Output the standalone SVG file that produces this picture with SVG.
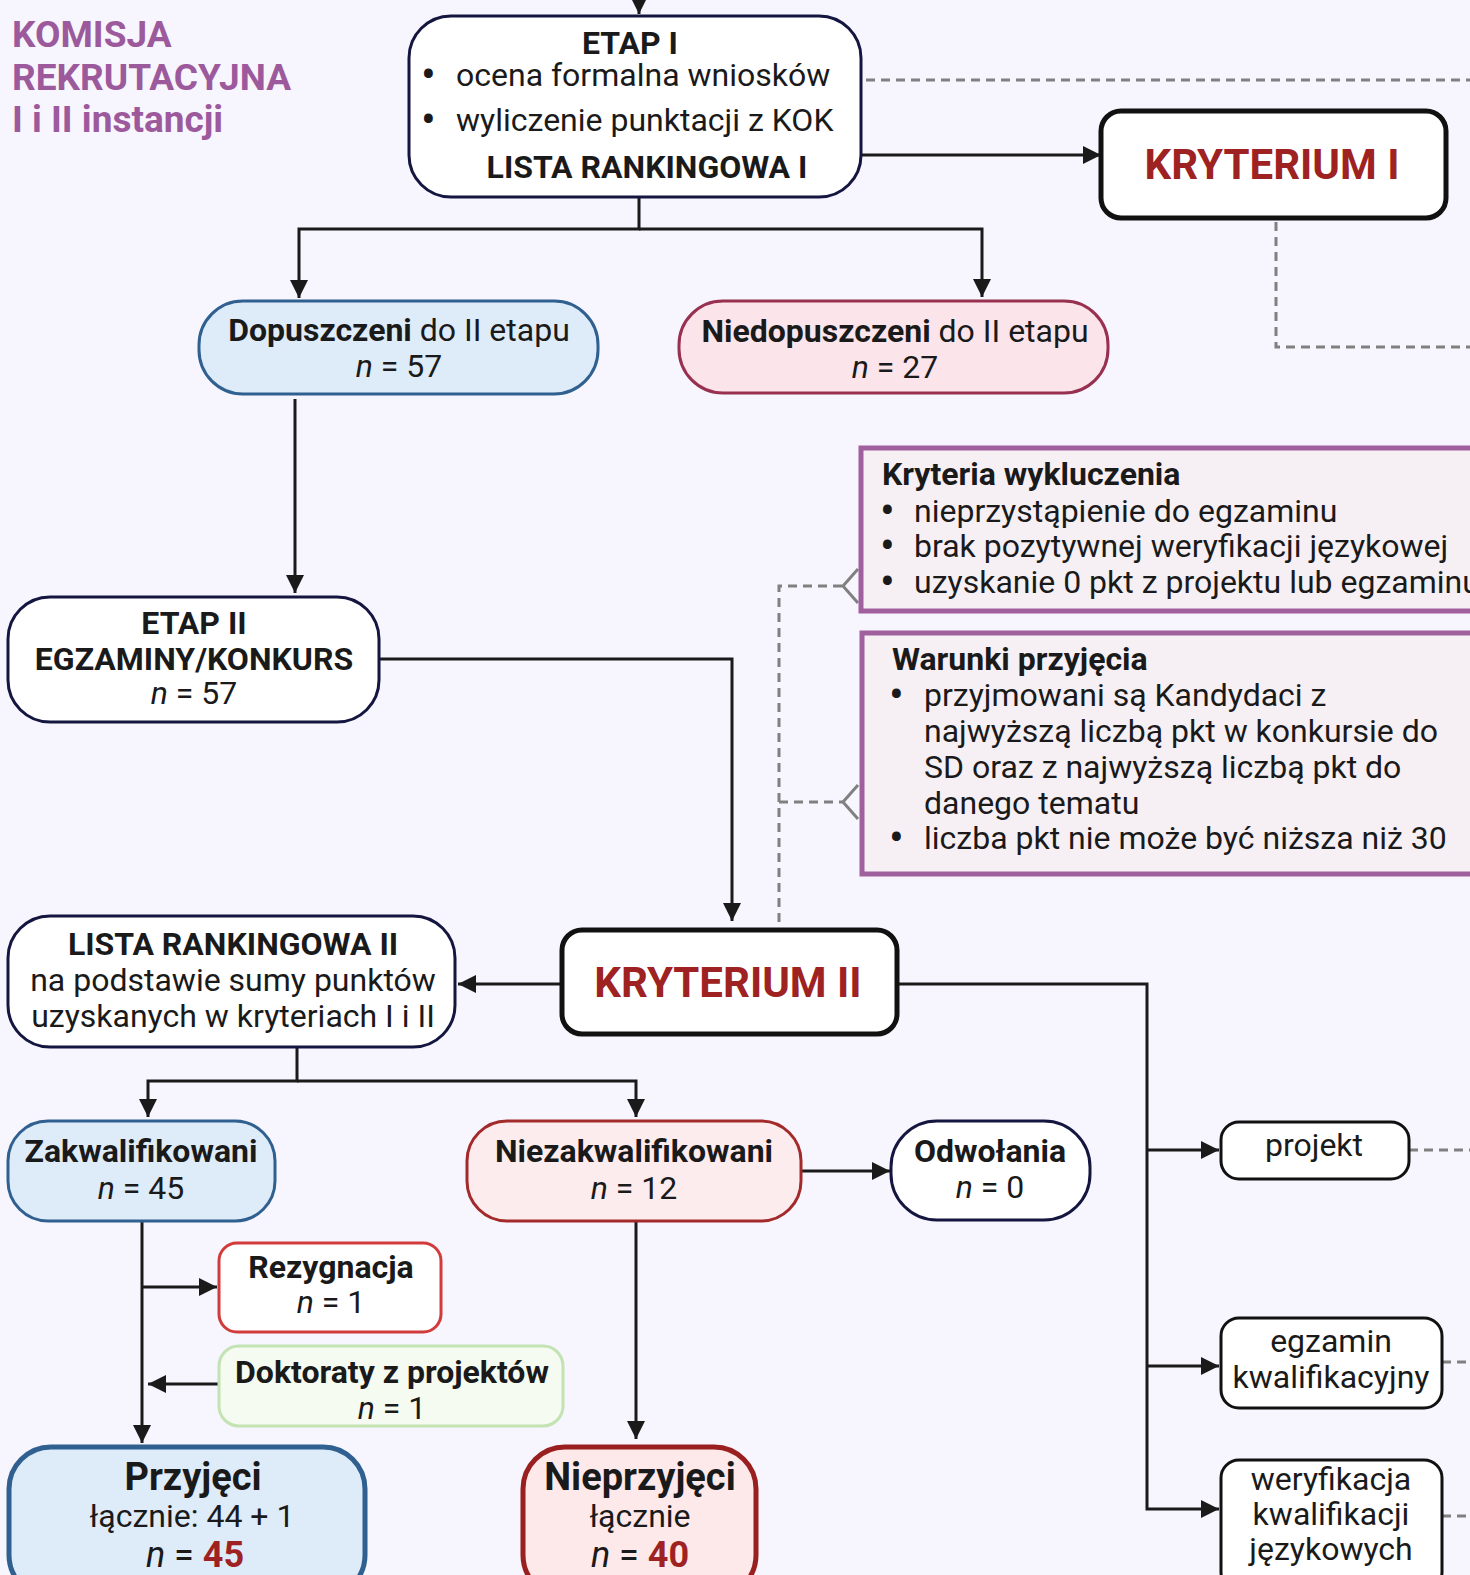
<svg xmlns="http://www.w3.org/2000/svg" width="1470" height="1575" viewBox="0 0 1470 1575">
<defs>
<style>
text{font-family:Roboto,"Noto Sans","Liberation Sans",sans-serif;font-size:32px;fill:#1a1a1a}
.b{font-weight:bold}
.i{font-style:italic}
.c{text-anchor:middle}
.bul{font-size:44px}
.title{font-size:37px;font-weight:bold;fill:#9c5a9c}
.kr{font-size:42px;font-weight:bold;fill:#9e2222}
.red{fill:#9e2222;font-weight:bold}
.navy{fill:#ffffff;stroke:#14163f;stroke-width:3}
.blue{fill:#deebf8;stroke:#30608f;stroke-width:3}
.pink{fill:#fbe4ea;stroke:#983050;stroke-width:3}
.rose{fill:#fdeced;stroke:#a32a2a;stroke-width:3}
.kbox{fill:#ffffff;stroke:#111111;stroke-width:5}
.sbox{fill:#ffffff;stroke:#111111;stroke-width:3}
.purp{fill:#f6f0f5;stroke:#a0609e;stroke-width:5}
.con path{fill:none;stroke:#1a1a1a;stroke-width:3}
.dash path{fill:none;stroke:#808080;stroke-width:3;stroke-dasharray:9 6}
.chev{fill:none;stroke:#808080;stroke-width:3}
</style>
<marker id="ah" markerUnits="userSpaceOnUse" markerWidth="20" markerHeight="18" refX="18" refY="9" orient="auto">
<path d="M0,0 L18,9 L0,18 z" fill="#1a1a1a"/>
</marker>
</defs>
<rect x="0" y="0" width="1470" height="1575" fill="#f7f5fd"/>

<g id="title">
<text class="title" x="12" y="47">KOMISJA</text>
<text class="title" x="12" y="90">REKRUTACYJNA</text>
<text class="title" x="12" y="132">I i II instancji</text>
</g>

<g class="dash">
<path d="M866,80 H1470"/>
<path d="M1276,222 V347 H1470"/>
<path d="M779,922 V586 H843"/>
<path d="M779,802 H843"/>
<path d="M1409,1150 H1470"/>
<path d="M1442,1362 H1470"/>
<path d="M1442,1516 H1470"/>
</g>
<path class="chev" d="M858,569 L843,586 L858,603"/>
<path class="chev" d="M858,785 L843,802 L858,819"/>

<g class="con">
<path d="M639,-20 V14" marker-end="url(#ah)"/>
<path d="M861,155 H1101" marker-end="url(#ah)"/>
<path d="M639,197 V229 H299 V298" marker-end="url(#ah)"/>
<path d="M639,229 H982 V297" marker-end="url(#ah)"/>
<path d="M295,399 V593" marker-end="url(#ah)"/>
<path d="M379,659 H732 V921" marker-end="url(#ah)"/>
<path d="M562,984 H458" marker-end="url(#ah)"/>
<path d="M297,1048 V1081 H148 V1117" marker-end="url(#ah)"/>
<path d="M297,1081 H636 V1117" marker-end="url(#ah)"/>
<path d="M801,1171 H890" marker-end="url(#ah)"/>
<path d="M897,984 H1147 V1509 H1219" marker-end="url(#ah)"/>
<path d="M1147,1150 H1219" marker-end="url(#ah)"/>
<path d="M1147,1366 H1219" marker-end="url(#ah)"/>
<path d="M142,1222 V1443" marker-end="url(#ah)"/>
<path d="M142,1287 H217" marker-end="url(#ah)"/>
<path d="M219,1384 H148" marker-end="url(#ah)"/>
<path d="M636,1222 V1439" marker-end="url(#ah)"/>
</g>

<g id="etap1">
<rect class="navy" x="409" y="16" width="452" height="181" rx="42"/>
<text class="b c" x="630" y="54">ETAP I</text>
<text x="421" y="86"><tspan class="bul" dy="4">•</tspan><tspan x="456" dy="-4">ocena formalna wniosków</tspan></text>
<text x="421" y="131"><tspan class="bul" dy="4">•</tspan><tspan x="456" dy="-4">wyliczenie punktacji z KOK</tspan></text>
<text class="b c" x="647" y="178">LISTA RANKINGOWA I</text>
</g>

<g id="kryterium1">
<rect class="kbox" x="1101" y="111" width="345" height="107" rx="20"/>
<text class="kr c" x="1272" y="179">KRYTERIUM I</text>
</g>

<g id="dopuszczeni">
<rect class="blue" x="199" y="301" width="399" height="93" rx="44"/>
<text class="c" x="399" y="341"><tspan class="b">Dopuszczeni</tspan> do II etapu</text>
<text class="c" x="399" y="377"><tspan class="i">n</tspan> = 57</text>
</g>

<g id="niedopuszczeni">
<rect class="pink" x="679" y="301" width="429" height="92" rx="44"/>
<text class="c" x="895" y="342"><tspan class="b">Niedopuszczeni</tspan> do II etapu</text>
<text class="c" x="895" y="378"><tspan class="i">n</tspan> = 27</text>
</g>

<g id="wykluczenia">
<rect class="purp" x="861" y="448" width="640" height="163"/>
<text class="b" x="882" y="485">Kryteria wykluczenia</text>
<text x="880" y="522"><tspan class="bul" dy="4">•</tspan><tspan x="914" dy="-4">nieprzystąpienie do egzaminu</tspan></text>
<text x="880" y="557"><tspan class="bul" dy="4">•</tspan><tspan x="914" dy="-4">brak pozytywnej weryfikacji językowej</tspan></text>
<text x="880" y="593"><tspan class="bul" dy="4">•</tspan><tspan x="914" dy="-4">uzyskanie 0 pkt z projektu lub egzaminu</tspan></text>
</g>

<g id="warunki">
<rect class="purp" x="862" y="633" width="640" height="241"/>
<text class="b" x="892" y="670">Warunki przyjęcia</text>
<text x="889" y="706"><tspan class="bul" dy="4">•</tspan><tspan x="924" dy="-4">przyjmowani są Kandydaci z</tspan></text>
<text x="924" y="742">najwyższą liczbą pkt w konkursie do</text>
<text x="924" y="778">SD oraz z najwyższą liczbą pkt do</text>
<text x="924" y="814">danego tematu</text>
<text x="889" y="849"><tspan class="bul" dy="4">•</tspan><tspan x="924" dy="-4">liczba pkt nie może być niższa niż 30</tspan></text>
</g>

<g id="etap2">
<rect class="navy" x="8" y="597" width="371" height="125" rx="42"/>
<text class="b c" x="194" y="634">ETAP II</text>
<text class="b c" x="194" y="670">EGZAMINY/KONKURS</text>
<text class="c" x="194" y="704"><tspan class="i">n</tspan> = 57</text>
</g>

<g id="kryterium2">
<rect class="kbox" x="562" y="930" width="335" height="104" rx="20"/>
<text class="kr c" x="728" y="997">KRYTERIUM II</text>
</g>

<g id="lista2">
<rect class="navy" x="8" y="916" width="447" height="131" rx="42"/>
<text class="b c" x="233" y="955">LISTA RANKINGOWA II</text>
<text class="c" x="233" y="991">na podstawie sumy punktów</text>
<text class="c" x="233" y="1027">uzyskanych w kryteriach I i II</text>
</g>

<g id="zakwalifikowani">
<rect class="blue" x="8" y="1121" width="267" height="100" rx="40"/>
<text class="b c" x="141" y="1162">Zakwalifikowani</text>
<text class="c" x="141" y="1199"><tspan class="i">n</tspan> = 45</text>
</g>

<g id="niezakwalifikowani">
<rect class="rose" x="467" y="1121" width="334" height="100" rx="40"/>
<text class="b c" x="634" y="1162">Niezakwalifikowani</text>
<text class="c" x="634" y="1199"><tspan class="i">n</tspan> = 12</text>
</g>

<g id="odwolania">
<rect class="navy" x="891" y="1121" width="199" height="99" rx="46"/>
<text class="b c" x="990" y="1162">Odwołania</text>
<text class="c" x="990" y="1198"><tspan class="i">n</tspan> = 0</text>
</g>

<g id="projekt">
<rect class="sbox" x="1221" y="1122" width="188" height="57" rx="18"/>
<text class="c" x="1314" y="1156">projekt</text>
</g>

<g id="egzamin">
<rect class="sbox" x="1221" y="1318" width="221" height="90" rx="18"/>
<text class="c" x="1331" y="1352">egzamin</text>
<text class="c" x="1331" y="1388">kwalifikacyjny</text>
</g>

<g id="weryfikacja">
<rect class="sbox" x="1221" y="1460" width="221" height="130" rx="18"/>
<text class="c" x="1331" y="1490">weryfikacja</text>
<text class="c" x="1331" y="1525">kwalifikacji</text>
<text class="c" x="1331" y="1560">językowych</text>
</g>

<g id="rezygnacja">
<rect x="219" y="1243" width="222" height="89" rx="18" fill="#ffffff" stroke="#d23b3b" stroke-width="3"/>
<text class="b c" x="331" y="1278">Rezygnacja</text>
<text class="c" x="331" y="1313"><tspan class="i">n</tspan> = 1</text>
</g>

<g id="doktoraty">
<rect x="219" y="1346" width="344" height="80" rx="20" fill="#f5fbf1" stroke="#c3e3b3" stroke-width="3"/>
<text class="b c" x="392" y="1383">Doktoraty z projektów</text>
<text class="c" x="392" y="1419"><tspan class="i">n</tspan> = 1</text>
</g>

<g id="przyjeci">
<rect x="9" y="1447" width="356" height="150" rx="42" fill="#deebf8" stroke="#30608f" stroke-width="5"/>
<text class="b c" x="193" y="1490" style="font-size:38px">Przyjęci</text>
<text class="c" x="192" y="1527">łącznie: 44 + 1</text>
<text class="c" x="195" y="1567" style="font-size:36px"><tspan class="i">n</tspan> = <tspan class="red">45</tspan></text>
</g>

<g id="nieprzyjeci">
<rect x="523" y="1447" width="233" height="150" rx="42" fill="#fde9ea" stroke="#9a1f1f" stroke-width="5"/>
<text class="b c" x="640" y="1490" style="font-size:38px">Nieprzyjęci</text>
<text class="c" x="640" y="1527">łącznie</text>
<text class="c" x="640" y="1567" style="font-size:36px"><tspan class="i">n</tspan> = <tspan class="red">40</tspan></text>
</g>
</svg>
